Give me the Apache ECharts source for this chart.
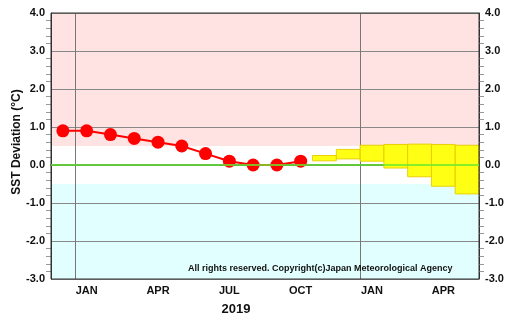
<!DOCTYPE html>
<html><head><meta charset="utf-8">
<script src="https://cdn.jsdelivr.net/npm/echarts@6/dist/echarts.min.js"></script>
<style>html,body{margin:0;padding:0;background:#fff;}#c{width:507px;height:323px;}</style>
</head><body><div id="c"></div>
<script>
var months = ['DEC','JAN','FEB','MAR','APR','MAY','JUN','JUL','AUG','SEP','OCT','NOV','DEC','JAN','FEB','MAR','APR','MAY'];
var observed = [0.9,0.9,0.8,0.7,0.6,0.5,0.3,0.1,0.0,0.0,0.1];
var forecastStart = 11;
var forecastUpper = [0.25,0.41,0.52,0.54,0.55,0.54,0.52];
var forecastLower = [0.11,0.16,0.10,-0.08,-0.31,-0.56,-0.76];
var shownLabels = [1,4,7,10,13,16];
var yearLines = [1,13];

var forecastData = forecastUpper.map(function(u,i){return [forecastStart+i, forecastLower[i], u];});
var font = 'Liberation Sans';
var chart = echarts.init(document.getElementById('c'));
chart.setOption({
  animation:false,
  grid:{left:51,right:28,top:13,bottom:44,show:true,borderColor:'#333',borderWidth:1,z:3,outerBoundsMode:'none',containLabel:false},
  xAxis:{type:'category',data:months,boundaryGap:true,z:1,
    axisLine:{lineStyle:{color:'#333',width:1.5}},
    axisTick:{inside:true,length:4,interval:0,lineStyle:{color:'#666'}},
    axisLabel:{interval:function(i){return shownLabels.indexOf(i)>=0;},color:'#111',fontFamily:font,fontWeight:'bold',fontSize:11,margin:6},
    splitLine:{show:true,interval:function(i){return yearLines.indexOf(i)>=0;},lineStyle:{color:'#777',width:1}}
  },
  yAxis:[{type:'value',min:-3,max:4,interval:1,position:'left',z:1,
    axisLine:{show:true,lineStyle:{color:'#333'}},
    axisTick:{show:false},
    minorTick:{show:true,splitNumber:5,length:5,lineStyle:{color:'#999'}},
    axisLabel:{formatter:function(v){return v.toFixed(1);},color:'#111',fontFamily:font,fontWeight:'bold',fontSize:11,margin:6},
    splitLine:{show:true,lineStyle:{color:'#888',width:1}}
  },{type:'value',min:-3,max:4,interval:1,position:'right',z:1,
    axisLine:{show:true,lineStyle:{color:'#333'}},
    axisTick:{show:false},
    minorTick:{show:true,splitNumber:5,length:5,lineStyle:{color:'#999'}},
    axisLabel:{formatter:function(v){return v.toFixed(1);},color:'#111',fontFamily:font,fontWeight:'bold',fontSize:11,margin:6},
    splitLine:{show:false}
  }],
  title:[{text:'2019',left:231,top:298,textAlign:'center',textStyle:{fontFamily:font,fontWeight:'bold',fontSize:13,color:'#111'}}],
  graphic:[
    {type:'text',left:188,top:264,z:10,style:{text:'All rights reserved. Copyright(c)Japan Meteorological Agency',fontFamily:font,fontWeight:'bold',fontSize:9,fill:'#111'}},
    {type:'text',x:17,y:142,rotation:Math.PI/2,z:10,style:{text:'SST Deviation (°C)',fontFamily:font,fontWeight:'bold',fontSize:12,fill:'#111',align:'center',verticalAlign:'middle'}}
  ],
  series:[
    {type:'line',data:[],z:-1,silent:true,
     markArea:{silent:true,z:-1,itemStyle:{opacity:1},data:[
       [{yAxis:0.5,itemStyle:{color:'#ffe2e2'}},{yAxis:4}],
       [{yAxis:-3,itemStyle:{color:'#e2ffff'}},{yAxis:-0.5}]
     ]}},
    {type:'custom',data:forecastData,z:2,
     renderItem:function(params,api){
       var x=api.value(0), lo=api.value(1), hi=api.value(2);
       var p1=api.coord([x,hi]), p2=api.coord([x,lo]);
       var w=api.size([1,0])[0];
       return {type:'rect',shape:{x:p1[0]-w/2,y:p1[1],width:w,height:p2[1]-p1[1]},
         style:{fill:'#ffff00',stroke:'#e8cc00',lineWidth:1,opacity:0.92}};
     }},
    {type:'line',data:[],z:3,silent:true,
     markLine:{silent:true,symbol:'none',label:{show:false},lineStyle:{color:'#66ee33',type:'solid',width:1.5},data:[{yAxis:0}]}},
    {type:'line',data:observed,z:4,symbol:'circle',symbolSize:13,
     lineStyle:{color:'#ff0000',width:2},itemStyle:{color:'#ff0000'}}
  ]
});
</script></body></html>
